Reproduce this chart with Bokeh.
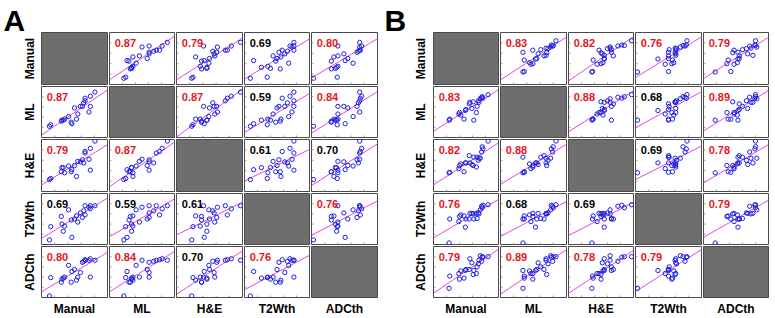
import numpy as np
from bokeh.plotting import figure
from bokeh.layouts import row, column, Spacer
from bokeh.models import Range1d, Label
from bokeh.core.properties import value
from bokeh.embed import file_html
from bokeh.resources import INLINE

measures = ["Manual", "ML", "H&E", "T2Wth", "ADCth"]

# ---- Panel A: per-sample estimates (percent of each axis range) ----
a_manual = [12, 14, 30, 31, 33, 35, 41, 45, 46, 50, 53, 55, 59, 62, 64, 66, 66, 72, 74, 74, 81]
a_ml     = [22, 25, 32, 34, 34, 36, 41, 30, 27, 58, 36, 46, 61, 61, 68, 72, 77, 50, 81, 61, 89]
a_he     = [23, 25, 38, 46, 46, 36, 49, 38, 42, 50, 29, 58, 57, 61, 55, 74, 77, 62, 83, 41, 97]
a_t2     = [9, 35, 55, 40, 26, 36, 68, 48, 14, 50, 56, 44, 62, 53, 66, 76, 58, 73, 70, 76, 76]
a_adc    = [3, 39, 30, 36, 38, 40, 63, 30, 51, 55, 34, 40, 49, 69, 71, 73, 74, 73, 76, 40, 73]

# ---- Panel B ----
b_manual = [24, 25, 39, 40, 42, 47, 49, 50, 55, 56, 59, 61, 62, 66, 67, 69, 70, 72, 74, 75, 76, 84]
b_ml     = [34, 36, 46, 49, 44, 36, 53, 55, 66, 69, 57, 70, 34, 49, 61, 72, 69, 76, 79, 80, 77, 84]
b_he     = [36, 37, 44, 50, 53, 38, 55, 55, 69, 55, 52, 50, 66, 47, 66, 60, 64, 64, 76, 86, 82, 97]
b_t2     = [3, 50, 45, 55, 58, 56, 34, 50, 50, 61, 61, 60, 50, 61, 51, 62, 60, 68, 75, 72, 77, 78]
b_adc    = [18, 42, 47, 36, 52, 38, 53, 55, 55, 76, 68, 45, 53, 47, 60, 66, 73, 82, 71, 80, 79, 80]

# correlation coefficients (upper triangle, row-major): M-ML, M-HE, M-T2, M-ADC, ML-HE, ML-T2, ML-ADC, HE-T2, HE-ADC, T2-ADC
a_corr = [0.87, 0.79, 0.69, 0.80, 0.87, 0.59, 0.84, 0.61, 0.70, 0.76]
b_corr = [0.83, 0.82, 0.76, 0.79, 0.88, 0.68, 0.89, 0.69, 0.78, 0.79]

panel_letters = ["A", "B"]
tick_values = [20, 40, 60, 80]

FONT = "Liberation Sans"
RED = "#e8141c"
TICK_PX = 2


def corr_matrix(vals):
    m = [[None] * 5 for _ in range(5)]
    k = 0
    for i in range(5):
        for j in range(i + 1, 5):
            m[i][j] = vals[k]
            m[j][i] = vals[k]
            k += 1
    return m


def add_inner_ticks(p, w, h):
    xr, yr = p.x_range, p.y_range
    dx = TICK_PX / (w - 2) * (xr.end - xr.start)
    dy = TICK_PX / (h - 2) * (yr.end - yr.start)
    x0, x1, y0, y1 = [], [], [], []
    for t in tick_values:
        # bottom edge
        x0.append(t); x1.append(t); y0.append(yr.start); y1.append(yr.start + dy)
        # left edge
        x0.append(xr.start); x1.append(xr.start + dx); y0.append(t); y1.append(t)
    p.segment(x0=x0, y0=y0, x1=x1, y1=y1, line_color="#9a9a9a", line_width=1)


def make_cell(data, corr, i, j, w, h):
    p = figure(width=w, height=h, x_range=Range1d(0, 100), y_range=Range1d(0, 100),
               x_axis_type=None, y_axis_type=None, toolbar_location=None,
               output_backend="svg", min_border=1, outline_line_color="#4a4a4a",
               outline_line_width=1, border_fill_color="white")
    if i == j:
        p.background_fill_color = "#6e6e6e"
        return p
    add_inner_ticks(p, w, h)
    x = np.array(data[j], dtype=float)
    y = np.array(data[i], dtype=float)
    k, b = np.polyfit(x, y, 1)
    xs = [p.x_range.start, p.x_range.end]
    p.line(xs, [k * v + b for v in xs], line_color="#e04ae0", line_width=1)
    p.scatter(x, y, marker="circle", size=4.3, fill_color=None,
              line_color="#1f1fe0", line_width=1)
    r = corr[i][j]
    p.add_layout(Label(x=8, y=88, text="%.2f" % r, text_font=FONT,
                       text_font_style="bold", text_font_size="11px",
                       text_color=RED if r > 0.70 else "black",
                       text_baseline="top", text_align="left"))
    return p


def make_grid(data, corr_vals, widths, heights):
    corr = corr_matrix(corr_vals)
    rows = []
    for i in range(5):
        rows.append(row(*[make_cell(data, corr, i, j, widths[j], heights[i]) for j in range(5)]))
    return column(*rows)


heights = [54, 53, 54, 53, 53]
a_widths = [68, 67, 68, 67, 68]
b_widths = [67, 68, 67, 68, 67]
TOP, BOT = 31, 20
GH = sum(heights)
H = TOP + GH + BOT
row_centers = [TOP + c for c in (np.cumsum(heights) - np.array(heights) / 2.0)]


def side_fig(w, xc, letter, lx):
    p = figure(width=w, height=H, x_range=Range1d(0, w), y_range=Range1d(H, 0),
               x_axis_type=None, y_axis_type=None, toolbar_location=None,
               output_backend="svg", min_border=0, outline_line_color=None)
    p.text(x=[xc] * 5, y=row_centers, text=measures, angle=np.pi / 2,
           text_font=value(FONT), text_font_style="bold", text_font_size="12px",
           text_align="center", text_baseline="middle", text_color="black")
    p.text(x=[lx], y=[19.5], text=[letter], text_font=value(FONT),
           text_font_style="bold", text_font_size="30px", text_align="left",
           text_baseline="middle", text_color="black")
    return p


def col_label_fig(widths):
    w = sum(widths)
    centers = list(np.cumsum(widths) - np.array(widths) / 2.0)
    p = figure(width=w, height=BOT, x_range=Range1d(0, w), y_range=Range1d(BOT, 0),
               x_axis_type=None, y_axis_type=None, toolbar_location=None,
               output_backend="svg", min_border=0, outline_line_color=None)
    p.text(x=centers, y=[10.5] * 5, text=measures, text_font=value(FONT),
           text_font_style="bold", text_font_size="12px", text_align="center",
           text_baseline="middle", text_color="black")
    return p


grid_a = make_grid([a_manual, a_ml, a_he, a_t2, a_adc], a_corr, a_widths, heights)
grid_b = make_grid([b_manual, b_ml, b_he, b_t2, b_adc], b_corr, b_widths, heights)

block_a = column(Spacer(width=sum(a_widths), height=TOP), grid_a, col_label_fig(a_widths))
block_b = column(Spacer(width=sum(b_widths), height=TOP), grid_b, col_label_fig(b_widths))

side_a = side_fig(40, 29, panel_letters[0], 3)
side_b = side_fig(54, 42, panel_letters[1], 6)

layout = row(side_a, block_a, side_b, block_b, Spacer(width=6, height=H))

open("out.html", "w").write(file_html(layout, INLINE))
